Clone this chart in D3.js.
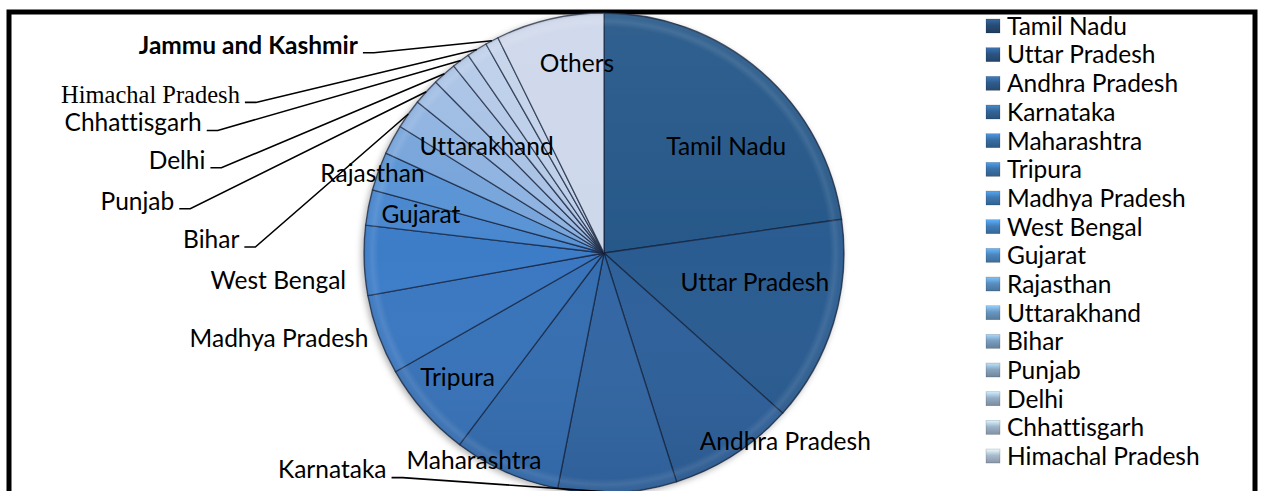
<!DOCTYPE html>
<html><head><meta charset="utf-8">
<script src="https://cdn.jsdelivr.net/npm/d3@7/dist/d3.min.js"></script>
<style>body{margin:0;background:#fff}svg{display:block}text{font-variant-ligatures:none;font-feature-settings:"liga" 0,"clig" 0}</style>
</head><body>
<svg id="chart" width="1261" height="491"></svg>
<script>
// ---------------- data ----------------
const categories = ["Tamil Nadu","Uttar Pradesh","Andhra Pradesh","Karnataka","Maharashtra","Tripura",
  "Madhya Pradesh","West Bengal","Gujarat","Rajasthan","Uttarakhand","Bihar","Punjab","Delhi",
  "Chhattisgarh","Himachal Pradesh","Jammu and Kashmir","Others"];
const shares = [22.8,13.9,8.5,8.0,7.2,6.5,5.4,4.7,2.4,2.6,2.0,2.0,1.8,1.6,1.2,1.4,0.9,7.3];
const legendItems = categories.slice(0,16);

// ---------------- style ----------------
const palette = ["#275889","#295c91","#2d619a","#3066a3","#346eb1","#3873b9","#3b78c1","#3e7dc8",
  "#4987cf","#5a94d5","#78a5db","#8fb3e1","#9ebce4","#aac3e6","#b5cae8","#bdcfea","#c5d4eb","#ced8eb"];
const legendPalette = ["#284c76","#2b5482","#2f5c8c","#336597","#386ea3","#3b74ab","#3e7ab3","#4280ba",
  "#4c87be","#5a8fc0","#6a97c0","#7a9fc0","#89a6c0","#95adc5","#9fb4ca","#a9bbce"];
const FONT = "Lato, 'Open Sans', sans-serif";
const FS = 24.5;
const cx = 604, cy = 253, R = 240;

// label layout: "in" = inside at radius factor k with angle nudge (deg),
// "out" = end-anchored near rim (offset), "lead" = end-anchored with leader line
const labelLayout = {
  "Tamil Nadu":{mode:"in",k:0.675,da:8},
  "Uttar Pradesh":{mode:"in",k:0.64,da:-6},
  "Andhra Pradesh":{mode:"in",k:1.09,da:-11},
  "Karnataka":{mode:"lead",dx:-231,dy:-23},
  "Maharashtra":{mode:"in",k:1.02,da:8},
  "Tripura":{mode:"in",k:0.8,da:1},
  "Madhya Pradesh":{mode:"out",dx:-10,dy:3},
  "West Bengal":{mode:"out",dx:-18,dy:20},
  "Gujarat":{mode:"in",k:0.78,da:1},
  "Rajasthan":{mode:"in",k:1.02,da:-1},
  "Uttarakhand":{mode:"in",k:0.66,da:14},
  "Bihar":{mode:"lead",dx:-169,dy:125},
  "Punjab":{mode:"lead",dx:-252,dy:109},
  "Delhi":{mode:"lead",dx:-239,dy:86},
  "Chhattisgarh":{mode:"lead",dx:-259,dy:62},
  "Himachal Pradesh":{mode:"lead",dx:-237,dy:45,serif:true},
  "Jammu and Kashmir":{mode:"lead",dx:-134,dy:4,bold:true},
  "Others":{mode:"in",k:0.8,da:5}
};

const svg = d3.select("#chart");
const defs = svg.append("defs");

// frame
svg.append("rect").attr("x",9).attr("y",12).attr("width",1246).attr("height",500)
  .attr("fill","#fff").attr("stroke","#000").attr("stroke-width",5);

// shadow filter
const f = defs.append("filter").attr("id","shadow").attr("x","-20%").attr("y","-20%").attr("width","140%").attr("height","140%");
f.append("feDropShadow").attr("dx",-2).attr("dy",2).attr("stdDeviation",3).attr("flood-color","#000").attr("flood-opacity",0.3);

// rim bevel gradient
const rg = defs.append("radialGradient").attr("id","rim").attr("gradientUnits","userSpaceOnUse")
  .attr("cx",0).attr("cy",0).attr("r",R);
[[0,"#fff",0],[0.94,"#fff",0],[0.965,"#fff",0.1],[0.985,"#fff",0.03],[1,"#000",0.15]].forEach(s=>
  rg.append("stop").attr("offset",s[0]).attr("stop-color",s[1]).attr("stop-opacity",s[2]));
// soft vertical shading
const lg = defs.append("linearGradient").attr("id","shade").attr("x1",0).attr("y1",0).attr("x2",0).attr("y2",1);
[[0,"#fff",0.05],[0.5,"#fff",0],[1,"#000",0.07]].forEach(s=>
  lg.append("stop").attr("offset",s[0]).attr("stop-color",s[1]).attr("stop-opacity",s[2]));

// legend marker gradient
legendPalette.forEach((c,i)=>{
  const g = defs.append("linearGradient").attr("id","lg"+i).attr("x1",0).attr("y1",0).attr("x2",0).attr("y2",1);
  g.append("stop").attr("offset",0).attr("stop-color",d3.color(c).brighter(0.9));
  g.append("stop").attr("offset",0.45).attr("stop-color",c);
  g.append("stop").attr("offset",1).attr("stop-color",d3.color(c).darker(0.6));
});

const data = categories.map((c,i)=>({name:c,value:shares[i],i}));
const pie = d3.pie().sort(null).value(d=>d.value).startAngle(0).endAngle(2*Math.PI);
const arcs = pie(data);
const arc = d3.arc().innerRadius(0).outerRadius(R);

const g = svg.append("g").attr("transform",`translate(${cx},${cy})`);
const slices = g.append("g").attr("filter","url(#shadow)");
slices.selectAll("path.slice").data(arcs).join("path").attr("class","slice")
  .attr("d",arc).attr("fill",d=>palette[d.data.i])
  .attr("stroke","rgba(20,32,55,0.7)").attr("stroke-width",1.3).attr("stroke-linejoin","round");
g.append("circle").attr("r",R).attr("fill","url(#rim)");
g.append("circle").attr("r",R).attr("fill","url(#shade)");

// labels
function polar(angle, r){ return [r*Math.sin(angle), -r*Math.cos(angle)]; }
const lab = svg.append("g").attr("font-family",FONT).attr("font-size",FS).attr("fill","#000");
arcs.forEach(d=>{
  const L = labelLayout[d.data.name];
  const mid = (d.startAngle+d.endAngle)/2;
  if(L.mode==="in"){
    const p = polar(mid + L.da*Math.PI/180, R*L.k);
    lab.append("text").attr("x",cx+p[0]).attr("y",cy+p[1]).attr("dy","0.36em")
      .attr("text-anchor","middle").text(d.data.name);
  } else {
    const rim = polar(mid, R);
    const rx = cx+rim[0], ry = cy+rim[1];
    const ax = rx+L.dx, ay = ry+L.dy;
    const t = lab.append("text").attr("x",ax).attr("y",ay).attr("dy","0.36em")
      .attr("text-anchor","end").text(d.data.name);
    if(L.bold) t.attr("font-weight","bold");
    if(L.serif) t.attr("font-family","'Liberation Serif', 'Times New Roman', serif");
    if(L.mode==="lead"){
      const ly = ay + 8;
      svg.append("path").attr("d",`M${ax+5},${ly}H${ax+16}L${rx},${ry}`)
        .attr("fill","none").attr("stroke","#000").attr("stroke-width",1.6);
    }
  }
});

// legend
const leg = svg.append("g").attr("font-family",FONT).attr("font-size",FS);
const rowH = 28.67, ly0 = 26;
legendItems.forEach((name,i)=>{
  const y = ly0 + i*rowH;
  leg.append("rect").attr("x",986).attr("y",y-7).attr("width",14).attr("height",14)
    .attr("fill","url(#lg"+i+")").attr("stroke","rgba(0,0,0,0.25)").attr("stroke-width",0.6);
  leg.append("text").attr("x",1007).attr("y",y).attr("dy","0.36em").text(name);
});
</script>
</body></html>
